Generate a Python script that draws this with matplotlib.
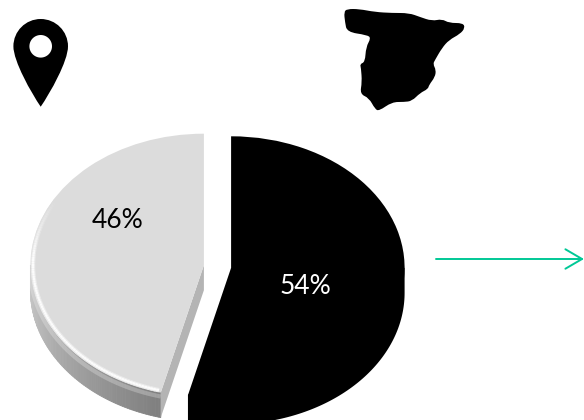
import matplotlib
matplotlib.use("Agg")
import matplotlib.pyplot as plt
import numpy as np
from matplotlib.path import Path
from matplotlib.patches import PathPatch

plt.rcParams['font.family'] = ['Lato', 'DejaVu Sans']

labels = ['54%', '46%']
values = [54, 46]
colors = ['#000000', '#dcdcdc']
label_colors = ['white', 'black']
label_px = [(305, 286), (118, 221)]

W, H = 584, 420

# outlines of the two icons, in pixels
spain_outline = [(344, 12), (347, 9), (359, 9), (375, 12), (392, 13), (409, 13), (420, 17), (432, 21),
                 (442, 19), (449, 23), (463, 23), (465, 28), (460, 34), (449, 40), (442, 48), (435, 60),
                 (433, 64), (436, 70), (435, 77), (429, 85), (428, 89), (420, 93), (412, 101), (404, 102),
                 (392, 102), (379, 111), (375, 109), (369, 98), (360, 94), (362, 82), (361, 68), (360, 64),
                 (365, 62), (366, 47), (371, 38), (367, 35), (347, 32), (345, 22)]


def smooth_closed(pts):
    pts = np.array(pts, dtype=float)
    mids = (pts + np.roll(pts, -1, axis=0)) / 2
    verts = [mids[-1]]
    codes = [Path.MOVETO]
    for p, m in zip(pts, mids):
        verts += [p, m]
        codes += [Path.CURVE3, Path.CURVE3]
    return Path(verts, codes)


def pin_path(cx, top, tip, r, hole):
    cy = top + r
    k = 0.5523 * r
    verts = [(cx, top), (cx + k, top), (cx + r, cy - k), (cx + r, cy),
             (cx + r, cy + r * 0.55), (cx + r * 0.35, tip - 14), (cx, tip),
             (cx - r * 0.35, tip - 14), (cx - r, cy + r * 0.55), (cx - r, cy),
             (cx - r, cy - k), (cx - k, top), (cx, top)]
    codes = [Path.MOVETO] + [Path.CURVE4] * 12
    t = np.linspace(0, 2 * np.pi, 60)
    verts += list(zip(cx + hole * np.cos(-t), cy + hole * np.sin(-t)))
    codes += [Path.MOVETO] + [Path.LINETO] * 59
    return Path(verts, codes)


def rim_points(w, t1, t2, n, r=1.0):
    ts = np.radians(np.linspace(t1, t2, n + 1))
    return w.center[0] + r * w.r * np.cos(ts), w.center[1] + r * w.r * np.sin(ts)


fig = plt.figure(figsize=(W / 100, H / 100), dpi=100)

# pie axes: one data unit is the ellipse radius
rx, ry = 173.5, 131.5
cx, cy = 217.5, 266.5
ax = fig.add_axes([(cx - rx) / W, 1 - (cy + ry) / H, 2 * rx / W, 2 * ry / H])
wedges, _ = ax.pie(values, explode=[0.079, 0.079], colors=colors, startangle=90,
                   counterclock=False, radius=1, wedgeprops={'lw': 0})
ax.set_aspect('auto')
ax.set_xlim(-1, 1)
ax.set_ylim(-1, 1)
for w in wedges:
    w.set_zorder(3)

depth = 25 / ry
black, gray = wedges
cut = gray.theta2 + 360  # angle of the cut between the slices, on the gray side

# black rim, overlapping into the top so no seam shows
x, y = rim_points(black, black.theta1, 0, 100)
xi, yi = rim_points(black, black.theta1 + 2, 0, 100, r=0.9)
ax.fill(np.r_[xi, x[-1], x[::-1], x[0]], np.r_[yi, y[-1], y[::-1] - depth, y[0]],
        color='black', lw=0, zorder=0)

# gray rim, shaded along the angle
n = 90
x, y = rim_points(gray, 180, cut, n)
for i in range(n):
    g = 0.80 - 0.30 * i / (n - 1)
    ax.fill([x[i], x[i + 1], x[i + 1], x[i]],
            [y[i], y[i + 1], y[i + 1] - depth, y[i] - depth],
            color=(g, g, g), lw=0.6, zorder=0)
# top of the rim catches some light
ax.plot(x, y - 0.03, color='white', alpha=0.25, lw=3, zorder=0.5, solid_capstyle='butt')

# cut face of the gray slice
end = np.radians(cut)
gx, gy = gray.center
ex = gx + np.cos(end)
ey = gy + np.sin(end)
ax.fill([gx, ex, ex, gx], [gy, ey, ey - depth, gy - depth],
        color='#b4b4b4', lw=0, zorder=1)

# soft light bevel along the lower edge of the gray top, fading out to the upper left
n = 100
ts = np.radians(np.linspace(150, cut - 0.8, n + 1))
for width, r, top in [(3.2, 0.985, 0.92), (1.6, 0.985, 0.99)]:
    bx = gx + r * np.cos(ts)
    by = gy + r * np.sin(ts)
    for i in range(n):
        f = min(1, i / 25)
        g = 0.863 + (top - 0.863) * f
        ax.plot(bx[i:i + 2], by[i:i + 2], color=(g, g, g), lw=width, zorder=4,
                solid_capstyle='butt')
for c in ax.get_children():
    c.set_clip_on(False)
ax.axis('off')

# overlay in pixels for the icons, labels and arrow
ov = fig.add_axes([0, 0, 1, 1], facecolor='none')
ov.set_xlim(0, W)
ov.set_ylim(H, 0)
ov.axis('off')

ov.add_patch(PathPatch(pin_path(40.7, 19, 106.7, 27.3, 11.3), fc='black', lw=0))
ov.add_patch(PathPatch(smooth_closed(spain_outline), fc='black', lw=0))

for txt, col, pos in zip(labels, label_colors, label_px):
    ov.text(pos[0], pos[1], txt, color=col, fontsize=19, ha='center', va='center')

ov.annotate('', xy=(584, 259), xytext=(436, 259),
            arrowprops=dict(arrowstyle='->,head_length=1.2,head_width=0.7',
                            color='#00c896', lw=1.4, shrinkA=0, shrinkB=0))

fig.savefig('out.png', dpi=100, facecolor='white')
